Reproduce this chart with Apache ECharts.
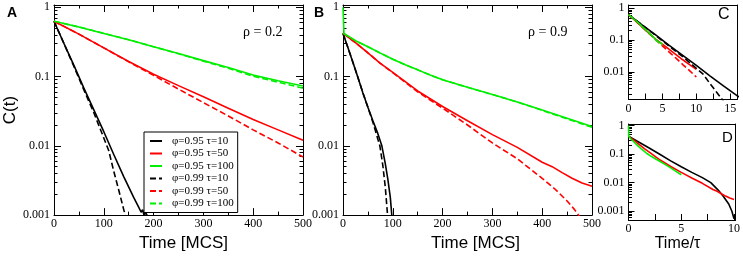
<!DOCTYPE html>
<html>
<head>
<meta charset="utf-8">
<script src="https://cdn.jsdelivr.net/npm/echarts@6/dist/echarts.min.js"></script>
<style>
html, body { margin: 0; padding: 0; background: #fff; }
#fig_corr { width: 743px; height: 257px; }
</style>
</head>
<body>
<div id="fig_corr"></div>
<script>
// legend names, same order everywhere
var names = ['φ=0.95 τ=10', 'φ=0.95 τ=50', 'φ=0.95 τ=100', 'φ=0.99 τ=10', 'φ=0.99 τ=50', 'φ=0.99 τ=100'];
var taus = [10, 50, 100, 10, 50, 100];
var colors = ['#000000', '#ff0000', '#00ee00', '#000000', '#ff0000', '#00ee00'];

// panel A, rho = 0.2 -- time [MCS] / C(t)
var a_t = [0, 50, 100, 150, 200, 250, 300, 350, 400, 450, 500];
var a_t_k10 = [0, 20, 40, 60, 80, 100, 120, 140, 160, 170, 175, 178, 181, 184, 188];
var a_c_k10 = [0.63, 0.30, 0.145, 0.068, 0.033, 0.016, 0.0075, 0.0036, 0.0018, 0.0013, 0.0011, 0.0012, 0.00098, 0.0011, 0.00095];
var a_c_r50 = [0.63, 0.41, 0.26, 0.165, 0.108, 0.074, 0.051, 0.035, 0.024, 0.017, 0.012];
var a_c_g100 = [0.63, 0.52, 0.42, 0.34, 0.27, 0.215, 0.17, 0.135, 0.105, 0.087, 0.073];
var a_t_k10d = [0, 20, 40, 60, 80, 100, 110, 120, 130, 140, 146];
var a_c_k10d = [0.63, 0.30, 0.14, 0.064, 0.030, 0.013, 0.0085, 0.0043, 0.0023, 0.0012, 0.00085];
var a_c_r50d = [0.63, 0.41, 0.26, 0.163, 0.104, 0.066, 0.042, 0.027, 0.017, 0.011, 0.0069];
var a_c_g100d = [0.63, 0.52, 0.42, 0.34, 0.27, 0.213, 0.167, 0.132, 0.101, 0.083, 0.068];

// panel B, rho = 0.9
var b_t_k10 = [0, 10, 20, 30, 40, 50, 60, 70, 78, 85, 90, 95, 98, 100];
var b_c_k10 = [0.42, 0.26, 0.16, 0.097, 0.058, 0.036, 0.023, 0.015, 0.010, 0.0055, 0.0033, 0.0018, 0.001, 0.00055];
var b_t_r50 = [0, 25, 50, 75, 100, 150, 200, 250, 300, 350, 400, 420, 440, 460, 480, 500];
var b_c_r50 = [0.42, 0.31, 0.22, 0.155, 0.115, 0.062, 0.037, 0.023, 0.0145, 0.0095, 0.0058, 0.0050, 0.0041, 0.0034, 0.0029, 0.0026];
var b_t_g100 = [0, 2, 25, 50, 75, 100, 125, 150, 175, 200, 250, 300, 350, 400, 450, 500];
var b_c_g100 = [1, 0.42, 0.33, 0.27, 0.218, 0.178, 0.148, 0.125, 0.105, 0.09, 0.07, 0.055, 0.043, 0.033, 0.025, 0.019];
var b_t_k10d = [0, 10, 20, 30, 40, 50, 60, 68, 74, 80, 85, 89, 91];
var b_c_k10d = [0.42, 0.26, 0.16, 0.097, 0.058, 0.036, 0.022, 0.014, 0.010, 0.0052, 0.0025, 0.0011, 0.0007];
var b_t_r50d = [0, 25, 50, 75, 100, 150, 200, 250, 300, 350, 400, 425, 450, 465, 475];
var b_c_r50d = [0.42, 0.31, 0.22, 0.155, 0.114, 0.060, 0.035, 0.020, 0.011, 0.0065, 0.0034, 0.0024, 0.0016, 0.0012, 0.00095];
var b_t_g100d = [0, 25, 50, 75, 100, 125, 150, 175, 200, 250, 300, 350, 400, 450, 500];
var b_c_g100d = [0.42, 0.33, 0.27, 0.218, 0.178, 0.148, 0.125, 0.105, 0.09, 0.07, 0.055, 0.043, 0.0325, 0.0245, 0.0185];

var yMajorTicks = [0.001, 0.01, 0.1, 1];
var xLabelsC = [0, 5, 10, 15];
var xTicksC = [0, 2.5, 5, 7.5, 10, 12.5, 15];
var xLabelsD = [0, 5, 10];
var xTicksD = [0, 2.5, 5, 7.5, 10];

var setsA = [[a_t_k10, a_c_k10], [a_t, a_c_r50], [a_t, a_c_g100], [a_t_k10d, a_c_k10d], [a_t, a_c_r50d], [a_t, a_c_g100d]];
var setsB = [[b_t_k10, b_c_k10], [b_t_r50, b_c_r50], [b_t_g100, b_c_g100], [b_t_k10d, b_c_k10d], [b_t_r50d, b_c_r50d], [b_t_g100d, b_c_g100d]];

// C and D: same curves against Time/tau
function scaled(sets, keep) {
    return sets.map(function (s, k) {
        if (keep.indexOf(k) < 0) return null;
        return [s[0].map(function (t) { return t / taus[k]; }), s[1]];
    });
}

var serif = 'Liberation Serif';
var sans = 'Liberation Sans';
var black = { color: '#000', width: 1 };

var grids = [], xAxes = [], yAxes = [], series = [];

function minorLogTicks(lo, hi) {
    var out = [];
    for (var e = -4; e <= 0; e++) {
        for (var m = 2; m <= 9; m++) {
            var v = m * Math.pow(10, e);
            if (v > lo && v < hi) out.push(v);
        }
    }
    return out;
}

// extra value axis on log10 scale, only used to draw ticks / frame lines
function tickAxis(g, pos, p, vals, len, line) {
    return {
        gridIndex: g, type: 'value', position: pos,
        min: Math.log10(p.yMin), max: Math.log10(p.yMax),
        axisLine: { show: line, onZero: false, lineStyle: black },
        axisTick: { show: vals.length > 0, inside: true, length: len, lineStyle: black,
            customValues: vals.filter(function (v) { return v >= p.yMin && v <= p.yMax; }).map(Math.log10) },
        axisLabel: { show: false },
        splitLine: { show: false }
    };
}

function addPanel(p) {
    var g = grids.length;
    grids.push({ left: p.left, top: p.top, width: p.width, height: p.height, show: false });

    var xb = {
        gridIndex: g, type: 'value', position: 'bottom', min: p.xMin, max: p.xMax,
        axisLine: { show: true, onZero: false, lineStyle: black },
        axisTick: { show: true, inside: true, length: p.tickLen, lineStyle: black },
        axisLabel: { show: true, margin: 3, fontFamily: serif, fontSize: 12, color: '#000' },
        splitLine: { show: false }
    };
    if (p.xInterval) {
        xb.interval = p.xInterval;
        xb.minorTick = { show: true, splitNumber: 2, length: 3.5, lineStyle: black };
    } else {
        xb.axisLabel.customValues = p.xLabels;
        xb.axisTick.customValues = p.xTicks;
    }
    if (p.xName) {
        xb.name = p.xName;
        xb.nameLocation = 'middle';
        xb.nameGap = p.xNameGap;
        xb.nameTextStyle = { fontFamily: sans, fontSize: p.xNameSize, color: '#000', padding: p.xNamePad };
    }
    var xi = xAxes.length;
    xAxes.push(xb);
    xAxes.push({
        gridIndex: g, type: 'value', position: 'top', min: p.xMin, max: p.xMax, interval: p.xInterval,
        axisLine: { show: true, onZero: false, lineStyle: black },
        axisTick: { show: p.frameTicks, inside: true, length: p.tickLen, lineStyle: black },
        minorTick: { show: p.frameTicks, splitNumber: 2, length: 3.5, lineStyle: black },
        axisLabel: { show: false },
        splitLine: { show: false }
    });

    var yi = yAxes.length;
    var ym = {
        gridIndex: g, type: 'log', logBase: 10, position: 'left', min: p.yMin, max: p.yMax,
        axisLine: { show: true, onZero: false, lineStyle: black },
        axisTick: { show: true, inside: true, length: p.tickLen, lineStyle: black },
        axisLabel: { show: true, margin: 4, showMinLabel: p.showMinLabel, showMaxLabel: false,
            fontFamily: serif, fontSize: 12, color: '#000',
            formatter: function (v) { return String(+(+v).toPrecision(2)); } },
        splitLine: { show: false }
    };
    if (p.yName) {
        ym.name = p.yName;
        ym.nameLocation = 'middle';
        ym.nameGap = 33;
        ym.nameRotate = 90;
        ym.nameTextStyle = { fontFamily: sans, fontSize: 17, color: '#000' };
    }
    yAxes.push(ym);
    yAxes.push(tickAxis(g, 'left', p, minorLogTicks(p.yMin, p.yMax), 3.5, false));
    if (p.frameTicks) {
        yAxes.push(tickAxis(g, 'right', p, yMajorTicks, p.tickLen, true));
        yAxes.push(tickAxis(g, 'right', p, minorLogTicks(p.yMin, p.yMax), 3.5, false));
    } else {
        yAxes.push(tickAxis(g, 'right', p, [], 0, true));
    }

    p.sets.forEach(function (s, k) {
        if (!s) return;
        series.push({
            name: names[k], type: 'line', xAxisIndex: xi, yAxisIndex: yi,
            symbol: 'none', showSymbol: false,
            data: s[0].map(function (t, j) { return [t, s[1][j]]; }),
            lineStyle: { color: colors[k], width: 1.6, type: k >= 3 ? [6, 3] : 'solid' },
            itemStyle: { color: colors[k] }
        });
    });
}

addPanel({ left: 54, top: 5, width: 249, height: 217, xMin: 0, xMax: 500, xInterval: 100,
    yMin: 0.001, yMax: 1.08, showMinLabel: true, tickLen: 7, frameTicks: true,
    xName: 'Time [MCS]', xNameGap: 14, xNameSize: 17, xNamePad: [0, 0, 0, 10], yName: 'C(t)',
    sets: setsA });
addPanel({ left: 343, top: 5, width: 249, height: 217, xMin: 0, xMax: 500, xInterval: 100,
    yMin: 0.001, yMax: 1.08, showMinLabel: true, tickLen: 7, frameTicks: true,
    xName: 'Time [MCS]', xNameGap: 14, xNameSize: 17, xNamePad: [0, 0, 0, 16],
    sets: setsB });
addPanel({ left: 628.5, top: 5, width: 108.5, height: 94.5, xMin: 0, xMax: 16,
    xLabels: xLabelsC, xTicks: xTicksC,
    yMin: 0.00135, yMax: 1.27, showMinLabel: false, tickLen: 6, frameTicks: false,
    sets: scaled(setsA, [0, 1, 2, 3, 4, 5]) });
addPanel({ left: 628.5, top: 124, width: 108.5, height: 96, xMin: 0, xMax: 10.15,
    xLabels: xLabelsD, xTicks: xTicksD,
    yMin: 0.000495, yMax: 1.13, showMinLabel: false, tickLen: 6, frameTicks: false,
    xName: 'Time/τ', xNameGap: 13, xNameSize: 16, xNamePad: [0, 9, 0, 0],
    sets: scaled(setsB, [0, 1, 2]) });

function label(text, x, y, font) {
    return { type: 'text', left: x, top: y, style: { text: text, font: font, fill: '#000' } };
}

var option = {
    animation: false,
    textStyle: { fontFamily: serif },
    grid: grids,
    xAxis: xAxes,
    yAxis: yAxes,
    legend: {
        orient: 'vertical', left: 144, top: 132,
        data: names,
        borderColor: '#000', borderWidth: 1, backgroundColor: '#fff',
        padding: [3, 4, 3, 5],
        itemWidth: 12, itemHeight: 8, itemGap: 0.5,
        itemStyle: { opacity: 0 },
        textStyle: { fontFamily: serif, fontSize: 11, lineHeight: 12, color: '#000', padding: [0, 0, 0, 5] },
        selectedMode: false
    },
    graphic: [
        label('A', 7, 6, 'bold 14px ' + sans),
        label('B', 314, 6, 'bold 14px ' + sans),
        label('C', 718, 7, '16px ' + sans),
        label('D', 722, 130, '15px ' + sans),
        label('ρ = 0.2', 243, 25, '14px ' + serif),
        label('ρ = 0.9', 528, 25, '14px ' + serif)
    ],
    series: series
};

var chart = echarts.init(document.getElementById('fig_corr'));
chart.setOption(option);
</script>
</body>
</html>
